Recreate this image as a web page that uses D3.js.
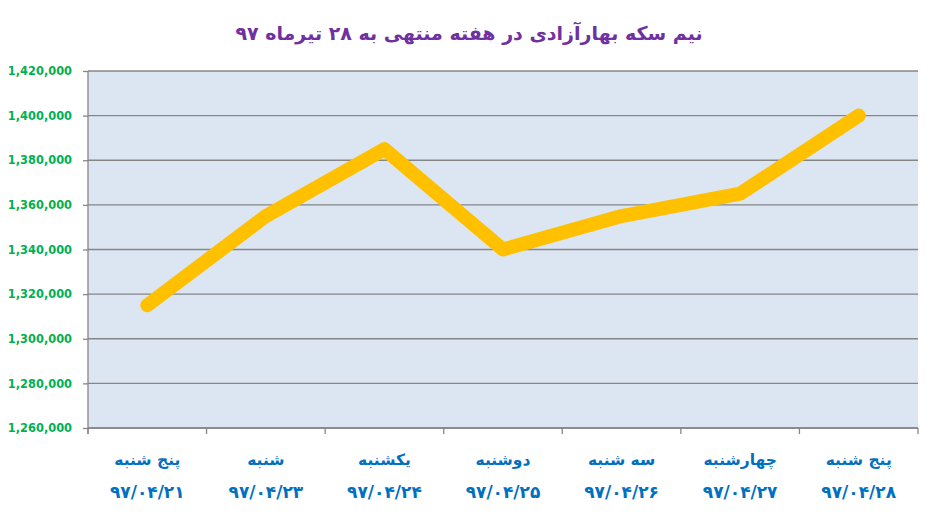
<!DOCTYPE html>
<html>
<head>
<meta charset="utf-8">
<script src="https://cdn.jsdelivr.net/npm/d3@7"></script>
<style>
  body { margin: 0; background: #fff; }
  svg { display: block; }
</style>
</head>
<body>
<div id="chart"></div>
<script>
// chart data
var days = ["پنج شنبه", "شنبه", "یکشنبه", "دوشنبه", "سه شنبه", "چهارشنبه", "پنج شنبه"];
var dates = ["۹۷/۰۴/۲۱", "۹۷/۰۴/۲۳", "۹۷/۰۴/۲۴", "۹۷/۰۴/۲۵", "۹۷/۰۴/۲۶", "۹۷/۰۴/۲۷", "۹۷/۰۴/۲۸"];
var prices = [1315000, 1355000, 1385000, 1340000, 1355000, 1365000, 1400000];
var yTicks = [1260000, 1280000, 1300000, 1320000, 1340000, 1360000, 1380000, 1400000, 1420000];
var title = "نیم سکه بهارآزادی در هفته منتهی به ۲۸ تیرماه ۹۷";

var width = 934, height = 518;
var margin = { top: 71, right: 16, bottom: 90, left: 88 };
var innerW = width - margin.left - margin.right;
var innerH = height - margin.top - margin.bottom;

var svg = d3.select("#chart").append("svg")
    .attr("width", width)
    .attr("height", height);

svg.append("text")
    .attr("x", 469)
    .attr("y", 40)
    .attr("text-anchor", "middle")
    .attr("direction", "rtl")
    .style("font-family", "DejaVu Sans")
    .style("font-weight", "bold")
    .style("font-size", "19px")
    .style("fill", "#7030A0")
    .text(title);

var g = svg.append("g")
    .attr("transform", "translate(" + margin.left + "," + margin.top + ")");

var idx = d3.range(days.length);

var x = d3.scaleBand()
    .domain(idx)
    .range([0, innerW]);

var y = d3.scaleLinear()
    .domain([1260000, 1420000])
    .range([innerH, 0]);

// plot background
g.append("rect")
    .attr("width", innerW)
    .attr("height", innerH)
    .attr("fill", "#DCE6F2");

// gridlines
g.selectAll(".grid")
    .data(yTicks)
  .enter().append("line")
    .attr("x1", 0)
    .attr("x2", innerW)
    .attr("y1", function(d) { return y(d); })
    .attr("y2", function(d) { return y(d); })
    .attr("stroke", "#868686")
    .attr("stroke-width", 1.3);

// y axis
var yAxis = g.append("g")
    .call(d3.axisLeft(y).tickValues(yTicks).tickSize(5).tickPadding(11)
      .tickFormat(d3.format(",")));
yAxis.selectAll("line, path").attr("stroke", "#868686").attr("stroke-width", 1.3);
yAxis.select(".domain").attr("d", "M0,0V" + (innerH + 6));
yAxis.selectAll("text")
    .style("font-family", "DejaVu Sans")
    .style("font-weight", "bold")
    .style("font-size", "11.4px")
    .style("fill", "#00B050");

// x axis: ticks on band boundaries
var xBounds = idx.map(function(i) { return x(i); }).concat([innerW]);
g.selectAll(".xtick")
    .data(xBounds)
  .enter().append("line")
    .attr("x1", function(d) { return d; })
    .attr("x2", function(d) { return d; })
    .attr("y1", innerH)
    .attr("y2", innerH + 6)
    .attr("stroke", "#868686")
    .attr("stroke-width", 1.3);
g.append("line")
    .attr("x1", 0).attr("x2", innerW)
    .attr("y1", innerH).attr("y2", innerH)
    .attr("stroke", "#868686")
    .attr("stroke-width", 1.3);

var labels = g.selectAll(".xlab")
    .data(idx)
  .enter().append("g")
    .attr("transform", function(i) { return "translate(" + (x(i) + x.bandwidth() / 2) + "," + innerH + ")"; });

labels.append("text")
    .attr("y", 37)
    .attr("text-anchor", "middle")
    .attr("direction", "rtl")
    .style("font-family", "DejaVu Sans")
    .style("font-weight", "bold")
    .style("font-size", "15.5px")
    .style("fill", "#0070C0")
    .text(function(i) { return days[i]; });

labels.append("text")
    .attr("y", 70)
    .attr("text-anchor", "middle")
    .style("font-family", "DejaVu Sans")
    .style("font-weight", "bold")
    .style("font-size", "17px")
    .style("fill", "#0070C0")
    .text(function(i) { return dates[i]; });

// price line
var line = d3.line()
    .x(function(d, i) { return x(i) + x.bandwidth() / 2; })
    .y(function(d) { return y(d); });

g.append("path")
    .datum(prices)
    .attr("d", line)
    .attr("fill", "none")
    .attr("stroke", "#FFC000")
    .attr("stroke-width", 14)
    .attr("stroke-linecap", "round")
    .attr("stroke-linejoin", "round");
</script>
</body>
</html>
